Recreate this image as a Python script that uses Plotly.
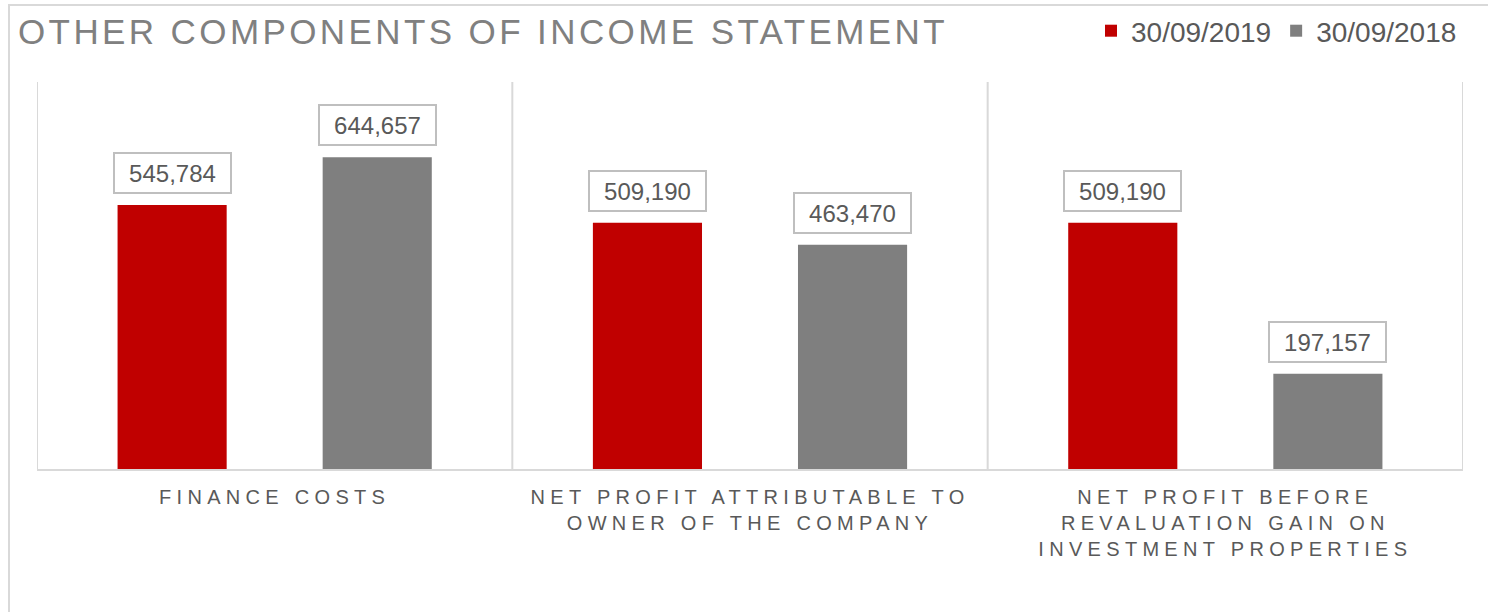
import plotly.graph_objects as go

categories = [
    "FINANCE COSTS",
    "NET PROFIT ATTRIBUTABLE TO<br>OWNER OF THE COMPANY",
    "NET PROFIT BEFORE<br>REVALUATION GAIN ON<br>INVESTMENT PROPERTIES",
]
series_names = ["30/09/2019", "30/09/2018"]
values_2019 = [545784, 509190, 509190]
values_2018 = [644657, 463470, 197157]
series_values = [values_2019, values_2018]
series_colors = ["#c00000", "#7f7f7f"]

FONT = "Liberation Sans, Arial, sans-serif"
W, H = 1488, 612
ML, MR, MT, MB = 37, 25, 82, 143
BARGAP = 0.137
BARGROUPGAP = 0.468
plot_w = W - ML - MR
plot_h = H - MT - MB
cat_w = plot_w / len(categories)
slot = cat_w * (1 - BARGAP) / len(series_values)

fig = go.Figure()
for name, vals, col in zip(series_names, series_values, series_colors):
    fig.add_trace(go.Bar(x=categories, y=vals, name=name, marker_color=col,
                         marker_line_width=0, hoverinfo="x+y"))

annotations = []
for i, vals in enumerate(series_values):
    shift = (i - (len(series_values) - 1) / 2) * slot
    for c, v in zip(categories, vals):
        annotations.append(dict(
            x=c, y=v, xref="x", yref="y", text=f"{v:,}", showarrow=False,
            xanchor="center", yanchor="bottom", xshift=shift, yshift=11,
            width=104, align="center",
            font=dict(family=FONT, size=24, color="#595959"),
            bgcolor="white", bordercolor="#bfbfbf", borderwidth=2, borderpad=5.5,
        ))

shapes = []
for k in range(len(categories) + 1):
    shapes.append(dict(type="line", xref="x", yref="y domain", x0=k - 0.5, x1=k - 0.5,
                       y0=0, y1=1, line=dict(color="#d9d9d9", width=2), layer="below"))
# outer chart frame
shapes.append(dict(type="rect", xref="paper", yref="paper",
                   x0=(9 - ML) / plot_w, x1=1.05, y0=-0.6, y1=(H - MB - 5) / plot_h,
                   line=dict(color="#d9d9d9", width=2), layer="below"))

fig.update_layout(
    width=W, height=H,
    margin=dict(l=ML, r=MR, t=MT, b=MB, autoexpand=False),
    paper_bgcolor="white", plot_bgcolor="white",
    barmode="group", bargap=BARGAP, bargroupgap=BARGROUPGAP,
    title=dict(text="OTHER COMPONENTS OF INCOME STATEMENT", x=18 / W, xanchor="left",
               xref="container", y=1 - 32 / H, yanchor="middle", yref="container",
               font=dict(family=FONT, size=35, color="#808080")),
    legend=dict(orientation="h", x=1 - 26 / W, xanchor="right", xref="container",
                y=1 - 31 / H, yanchor="middle", yref="container",
                font=dict(family=FONT, size=28, color="#595959"),
                bgcolor="rgba(0,0,0,0)", itemwidth=30, tracegroupgap=0),
    xaxis=dict(range=[-0.5, len(categories) - 0.5], showline=True, linecolor="#d9d9d9",
               linewidth=2, showgrid=False, ticks="outside", ticklen=9, tickcolor="white",
               tickfont=dict(family=FONT, size=20, color="#595959"),
               fixedrange=True),
    yaxis=dict(range=[0, 800000], visible=False, showgrid=False, fixedrange=True),
    annotations=annotations, shapes=shapes, showlegend=True,
)

post = (
    "var s=document.createElement('style');"
    "s.textContent='body{margin:0;} .xtick text{letter-spacing:5.3px;} "
    ".gtitle{letter-spacing:3.4px;}';"
    "document.head.appendChild(s);"
)
fig.write_html("out.html", post_script=post, config={"displayModeBar": False})
